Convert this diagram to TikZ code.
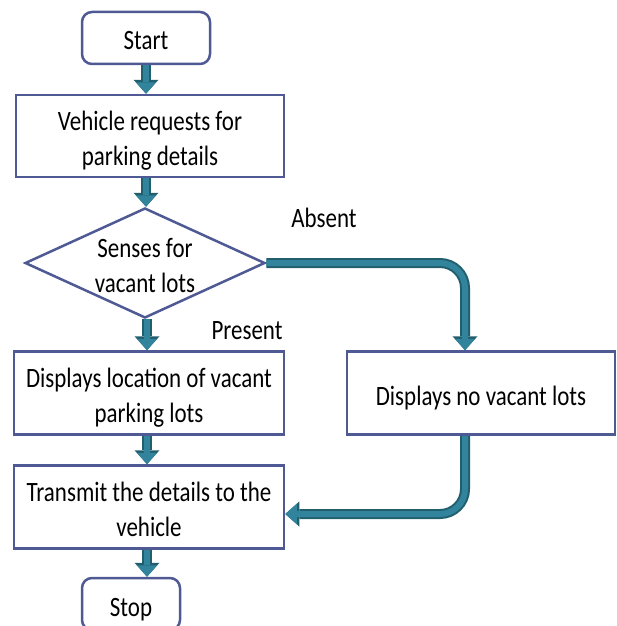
\documentclass[tikz,border=0pt]{standalone}
\usepackage{fontspec}
\setmainfont{Carlito}
\usepackage{graphicx}
\usetikzlibrary{shapes.geometric,arrows.meta}
\definecolor{boxline}{HTML}{4F5A94}
\definecolor{teal1}{HTML}{31849B}
\definecolor{teal2}{HTML}{215E6E}
\newcommand{\sqz}[1]{\raisebox{-5pt}[\height][\depth]{\scalebox{0.82}[1]{\begin{tabular}{@{}c@{}}#1\end{tabular}}}}
\tikzset{
  base/.style={draw=boxline, line width=2.5pt, inner sep=0pt, fill=white,
    font=\fontsize{28}{35}\selectfont},
  procbox/.style={base, rectangle, minimum width=270pt, minimum height=83pt},
  termbox/.style={base, rectangle, rounded corners=10pt},
  decbox/.style={base, diamond, shape aspect=2.18, minimum width=240pt, minimum height=110pt, inner sep=-3pt},
  lbl/.style={inner sep=0pt, font=\fontsize{28}{35}\selectfont},
  flow/.style={
    preaction={draw=teal2, line width=10pt, -{Triangle[width=25pt,length=14pt,line width=0pt]}},
    draw=teal1, line width=6pt, -{Triangle[width=20pt,length=11.5pt,line width=0pt]}},
}
\begin{document}
\begin{tikzpicture}[x=1pt,y=-1pt]
\useasboundingbox (0,0) rectangle (616,626);
\node[termbox, minimum width=128pt, minimum height=52pt] (start) at (146,38) {\sqz{Start}};
\node[procbox, minimum width=268pt, minimum height=82pt] (req) at (150,136) {\sqz{Vehicle requests for\\parking details}};
\node[decbox] (sense) at (145,263) {\sqz{Senses for\\vacant lots}};
\node[procbox] (disp) at (149,393) {\sqz{Displays location of vacant\\parking lots}};
\node[procbox, minimum width=268pt] (nodisp) at (481,393) {\sqz{Displays no vacant lots}};
\node[procbox] (trans) at (149,507) {\sqz{Transmit the details to the\\vehicle}};
\node[termbox, minimum width=98pt, minimum height=52pt] (stop) at (131,604) {\sqz{Stop}};
\node[lbl] (absent) at (324,215) {\sqz{Absent}};
\node[lbl] (present) at (247,327) {\sqz{Present}};
\coordinate (nt) at ([xshift=-16pt]nodisp.north);
\coordinate (nb) at ([xshift=-16pt]nodisp.south);
\coordinate (te) at ([yshift=-7pt]trans.east);
\draw[flow] (start.south) -- (start.south |- req.north);
\draw[flow] ([xshift=-4pt]req.south) -- ([xshift=-4pt]req.south |- sense.north);
\draw[flow] ([xshift=2pt]sense.south) -- ([xshift=2pt]sense.south |- disp.north);
\draw[flow] ([xshift=-2pt]disp.south) -- ([xshift=-2pt]trans.north);
\draw[flow] ([xshift=-2pt]trans.south) -- ([xshift=-2pt]trans.south |- stop.north);
\draw[flow, rounded corners=25pt] (sense.east) -| (nt);
\draw[flow, rounded corners=25pt] (nb) |- (te);
\end{tikzpicture}
\end{document}
